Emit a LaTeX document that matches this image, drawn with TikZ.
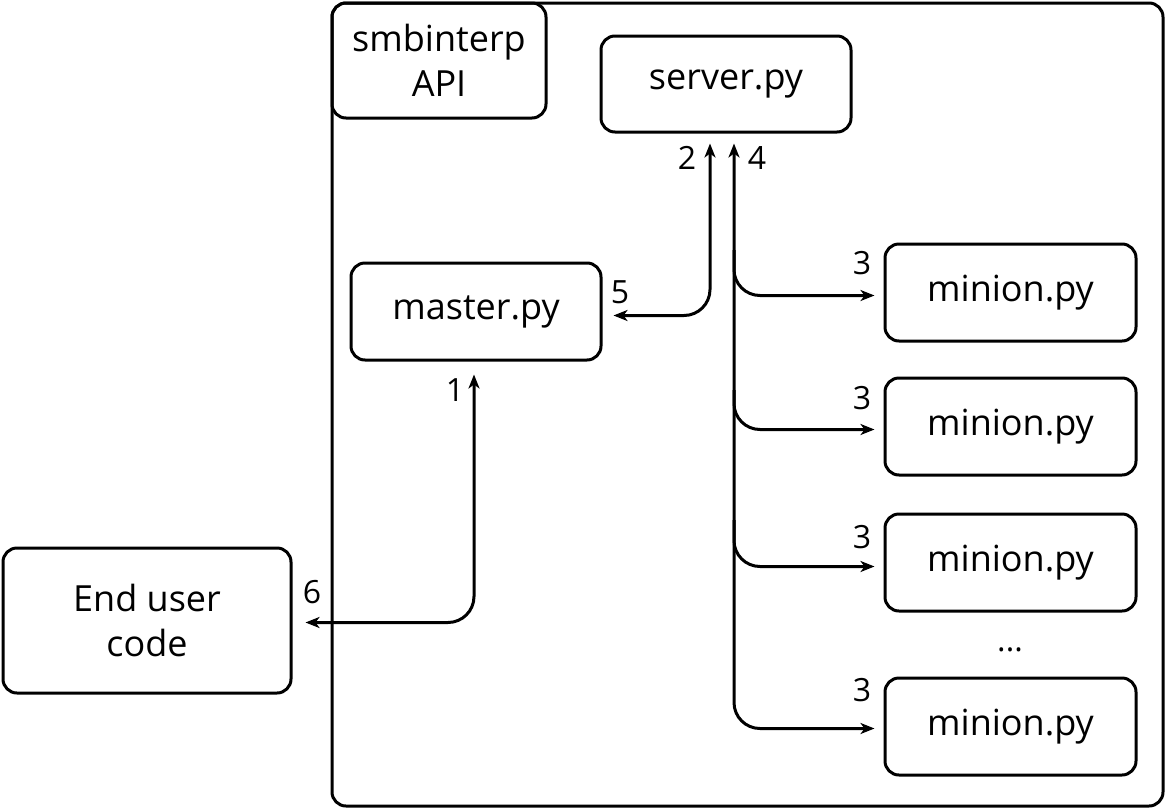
\documentclass[tikz,border=0pt]{standalone}
\usepackage{fontspec}
\setmainfont{Open Sans}
\usetikzlibrary{arrows.meta,calc}
\begin{document}
\begin{tikzpicture}[x=1pt,y=-1pt,
  box/.style={draw,line width=3pt,rounded corners=14pt,inner sep=0pt,font=\fontsize{36}{45}\selectfont,align=center},
  conn/.style={line width=3pt,rounded corners=26pt},
  tip/.style={-{Stealth[length=14pt,width=11pt,inset=4pt]}},
  lbl/.style={font=\fontsize{32}{36}\selectfont,inner sep=0pt}]
\useasboundingbox (0,0) rectangle (1167,809);
% outer box
\node[box,minimum width=831pt,minimum height=803pt] (api) at (747.5,404.5) {};
\node[box,minimum width=214pt,minimum height=115pt] (smb) at (439,60.5) {smbinterp\\API};
\node[box,minimum width=250pt,minimum height=96pt] (server) at (726,84) {server.py};
\node[box,minimum width=250pt,minimum height=97pt] (master) at (476,311.5) {master.py};
\node[box,minimum width=251pt,minimum height=97pt] (m1) at (1010.5,292.5) {minion.py};
\node[box,minimum width=251pt,minimum height=97pt] (m2) at (1010.5,426.5) {minion.py};
\node[box,minimum width=251pt,minimum height=97pt] (m3) at (1010.5,562.5) {minion.py};
\node[box,minimum width=251pt,minimum height=97pt] (m4) at (1010.5,726.5) {minion.py};
\node[box,minimum width=288pt,minimum height=145pt] (user) at (147,620.5) {End user\\code};
\node[lbl] (dots) at (1010,650) {...};
% endpoints
\coordinate (s2) at ($(server.south)+(-16,10)$);
\coordinate (s4) at ($(server.south)+(8,10)$);
\coordinate (ma) at ($(master.east)+(11,4)$);
\coordinate (mb) at ($(master.south)+(-2,13)$);
\coordinate (ua) at ($(user.east)+(13,2)$);
\coordinate (t1) at ($(m1.west)+(-9,3)$);
\coordinate (t2) at ($(m2.west)+(-9,3)$);
\coordinate (t3) at ($(m3.west)+(-9,4)$);
\coordinate (t4) at ($(m4.west)+(-9,2)$);
% connectors
\draw[conn,{Stealth[length=14pt,width=11pt,inset=4pt]}-{Stealth[length=14pt,width=11pt,inset=4pt]}] (s2) |- (ma);
\draw[conn,{Stealth[length=14pt,width=11pt,inset=4pt]}-{Stealth[length=14pt,width=11pt,inset=4pt]}] (mb) |- (ua);
\draw[conn,{Stealth[length=14pt,width=11pt,inset=4pt]}-{Stealth[length=14pt,width=11pt,inset=4pt]}] (s4) |- (t4);
\draw[conn,tip] (s4 |- 0,250) |- (t1);
\draw[conn,tip] (s4 |- 0,390) |- (t2);
\draw[conn,tip] (s4 |- 0,520) |- (t3);
% labels
\node[lbl] (l2) at (687,158) {2};
\node[lbl] (l4) at (757,158) {4};
\node[lbl] (l5) at (620,292) {5};
\node[lbl] (l1) at (455,390) {1};
\node[lbl] (l6) at (312,592) {6};
\node[lbl] (l3a) at (862,263) {3};
\node[lbl] (l3b) at (862,398) {3};
\node[lbl] (l3c) at (862,537) {3};
\node[lbl] (l3d) at (862,690) {3};
\end{tikzpicture}
\end{document}
